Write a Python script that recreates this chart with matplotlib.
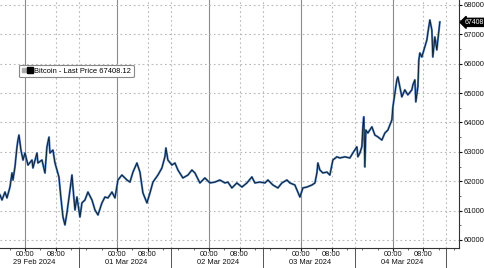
import matplotlib
matplotlib.use("Agg")
import matplotlib.pyplot as plt
import matplotlib.dates as mdates
import pandas as pd
from matplotlib.lines import Line2D
from matplotlib.legend_handler import HandlerTuple
from matplotlib.ticker import MultipleLocator

plt.rcParams["font.family"] = ["Liberation Sans", "DejaVu Sans"]

# Bitcoin last price
times = [
    "2024-02-28 17:30", "2024-02-28 18:00", "2024-02-28 18:47", "2024-02-28 19:18",
    "2024-02-28 20:05", "2024-02-28 20:37", "2024-02-28 20:52", "2024-02-28 21:23",
    "2024-02-28 21:55", "2024-02-28 22:10", "2024-02-28 22:26", "2024-02-28 22:57",
    "2024-02-28 23:29", "2024-02-29 00:00", "2024-02-29 00:47", "2024-02-29 01:50",
    "2024-02-29 02:05", "2024-02-29 03:08", "2024-02-29 03:23", "2024-02-29 04:26",
    "2024-02-29 05:13", "2024-02-29 05:44", "2024-02-29 06:16", "2024-02-29 06:31",
    "2024-02-29 07:18", "2024-02-29 07:50", "2024-02-29 08:21", "2024-02-29 08:52",
    "2024-02-29 09:23", "2024-02-29 09:55", "2024-02-29 10:26", "2024-02-29 10:57",
    "2024-02-29 11:44", "2024-02-29 12:16", "2024-02-29 12:31", "2024-02-29 13:03",
    "2024-02-29 13:34", "2024-02-29 14:21", "2024-02-29 14:52", "2024-02-29 15:39",
    "2024-02-29 16:26", "2024-02-29 17:29", "2024-02-29 18:16", "2024-02-29 19:03",
    "2024-02-29 20:05", "2024-02-29 20:52", "2024-02-29 21:39", "2024-02-29 22:42",
    "2024-02-29 23:29", "2024-03-01 00:16", "2024-03-01 01:18", "2024-03-01 02:37",
    "2024-03-01 03:24", "2024-03-01 04:11", "2024-03-01 05:13", "2024-03-01 06:00",
    "2024-03-01 06:47", "2024-03-01 07:50", "2024-03-01 08:37", "2024-03-01 09:24",
    "2024-03-01 10:42", "2024-03-01 11:44", "2024-03-01 12:31", "2024-03-01 12:47",
    "2024-03-01 13:18", "2024-03-01 14:21", "2024-03-01 15:08", "2024-03-01 15:55",
    "2024-03-01 17:13", "2024-03-01 18:32", "2024-03-01 19:34", "2024-03-01 20:21",
    "2024-03-01 21:39", "2024-03-01 22:57", "2024-03-02 00:16", "2024-03-02 01:34",
    "2024-03-02 02:52", "2024-03-02 04:11", "2024-03-02 04:57", "2024-03-02 06:00",
    "2024-03-02 07:18", "2024-03-02 08:37", "2024-03-02 09:55", "2024-03-02 11:13",
    "2024-03-02 12:00", "2024-03-02 13:18", "2024-03-02 14:37", "2024-03-02 15:24",
    "2024-03-02 16:42", "2024-03-02 18:00", "2024-03-02 19:03", "2024-03-02 20:21",
    "2024-03-02 21:08", "2024-03-02 22:26", "2024-03-02 23:13", "2024-03-02 23:45",
    "2024-03-03 00:32", "2024-03-03 01:34", "2024-03-03 02:53", "2024-03-03 03:40",
    "2024-03-03 04:11", "2024-03-03 04:26", "2024-03-03 04:58", "2024-03-03 05:45",
    "2024-03-03 06:47", "2024-03-03 07:34", "2024-03-03 08:21", "2024-03-03 09:24",
    "2024-03-03 10:11", "2024-03-03 11:29", "2024-03-03 12:47", "2024-03-03 13:34",
    "2024-03-03 14:37", "2024-03-03 14:53", "2024-03-03 15:24", "2024-03-03 15:55",
    "2024-03-03 16:11", "2024-03-03 16:26", "2024-03-03 16:42", "2024-03-03 16:58",
    "2024-03-03 17:29", "2024-03-03 18:32", "2024-03-03 19:19", "2024-03-03 20:05",
    "2024-03-03 21:08", "2024-03-03 21:55", "2024-03-03 22:42", "2024-03-03 23:45",
    "2024-03-04 00:01", "2024-03-04 00:32", "2024-03-04 01:03", "2024-03-04 01:19",
    "2024-03-04 01:50", "2024-03-04 02:21", "2024-03-04 03:08", "2024-03-04 03:55",
    "2024-03-04 04:58", "2024-03-04 05:14", "2024-03-04 05:45", "2024-03-04 06:00",
    "2024-03-04 06:32", "2024-03-04 06:47", "2024-03-04 07:03", "2024-03-04 07:34",
    "2024-03-04 08:21", "2024-03-04 08:53", "2024-03-04 09:08", "2024-03-04 09:40",
    "2024-03-04 10:11", "2024-03-04 10:26", "2024-03-04 10:58", "2024-03-04 11:29",
    "2024-03-04 11:45", "2024-03-04 12:16",
]
prices = [
    61530, 61360, 61630, 61430, 61800, 62280, 62040, 62485,
    63170, 63400, 63570, 63060, 62720, 62960, 62550, 62720,
    62450, 62960, 62620, 62720, 62280, 63170, 63500, 62960,
    63060, 62620, 62380, 62140, 61430, 60780, 60510, 60920,
    61700, 62210, 61800, 61020, 61460, 60780, 61260, 61360,
    61630, 61360, 61020, 60850, 61260, 61460, 61430, 61630,
    61430, 62040, 62210, 62040, 61970, 62310, 62620, 62310,
    61600, 61260, 61600, 61970, 62210, 62450, 62830, 63130,
    62720, 62550, 62620, 62380, 62110, 62210, 62380, 62280,
    61940, 62110, 61940, 61970, 62040, 61940, 61970, 61770,
    61940, 61800, 61940, 62145, 61940, 61970, 61940, 62040,
    61870, 61770, 61940, 62040, 61940, 61870, 61630, 61460,
    61770, 61800, 61870, 61940, 62280, 62620, 62380, 62280,
    62310, 62210, 62720, 62830, 62790, 62830, 62790, 62960,
    63170, 62830, 62960, 63170, 63850, 64190, 62485, 63740,
    63640, 63850, 63570, 63510, 63400, 63640, 63740, 64085,
    64530, 65000, 65450, 65550, 65210, 64870, 65110, 64940,
    65110, 65280, 65450, 64700, 65210, 66130, 66365, 66230,
    66570, 66810, 67050, 67490, 67150, 66230, 66910, 66470,
    66810, 67420,
]
last_price = 67408.12
days = ["2024-02-29", "2024-03-01", "2024-03-02", "2024-03-03", "2024-03-04"]

t = pd.to_datetime(times)
day_ts = pd.to_datetime(days)

fig = plt.figure(figsize=(4.85, 2.68), dpi=100)
ax = fig.add_axes([0.0, 0.075, 0.946, 0.925])

ax.plot(t, prices, color="#4a7fc1", lw=1.5, solid_joinstyle="round")
ax.plot(t, prices, color="#0d1620", lw=0.6, label="Bitcoin - Last Price 67408.12")

ax.set_xlim(pd.Timestamp("2024-02-28 17:29"), pd.Timestamp("2024-03-04 17:13"))
ax.set_ylim(59728, 68170)

fs = 5.4
dotted = (0, (1.5, 2.5))

# grid
ax.yaxis.set_major_locator(MultipleLocator(1000))
ax.yaxis.set_minor_locator(MultipleLocator(500))
ax.grid(axis="y", color="#b8b8b8", linestyle=dotted, lw=0.8)
for d in day_ts:
    ax.axvline(d, color="#8c8c8c", lw=0.8, zorder=0)
    ax.axvline(d + pd.Timedelta(hours=8), color="#b8b8b8", lw=0.8,
               linestyle=dotted, zorder=0)
    ax.axvline(d + pd.Timedelta(hours=14), color="#b8b8b8", lw=0.8,
               linestyle=dotted, zorder=0)
    ax.plot([d + pd.Timedelta(hours=14)] * 2, [0, -0.085], color="#555555", lw=0.7,
            transform=ax.get_xaxis_transform(), clip_on=False)
    ax.text(d + pd.Timedelta(hours=2.5), -0.044, d.strftime("%d %b %Y"),
            transform=ax.get_xaxis_transform(), ha="center", va="top",
            fontsize=fs, color="#111111")

ticks = [d + pd.Timedelta(hours=h) for d in day_ts for h in (0, 8)]
ax.set_xticks(ticks)
ax.set_xticklabels([x.strftime("%H:%M") for x in ticks])
ax.xaxis.set_minor_locator(mdates.HourLocator(byhour=[4, 12, 16, 20]))
ax.tick_params(axis="x", which="major", length=2, pad=0.5, labelsize=fs,
               colors="#111111")
ax.tick_params(axis="x", which="minor", length=1.5, color="#555555")

ax.yaxis.tick_right()
ax.tick_params(axis="y", which="major", length=2.5, pad=1.2, labelsize=fs,
               colors="#111111")
ax.tick_params(axis="y", which="minor", length=1.5, color="#555555")

for s in ("left", "top"):
    ax.spines[s].set_visible(False)
ax.spines["right"].set_color("#333333")
ax.spines["bottom"].set_color("#333333")
ax.spines["right"].set_linewidth(0.8)
ax.spines["bottom"].set_linewidth(0.8)

# last price tag
ax.text(1.012, last_price, "67408.", transform=ax.get_yaxis_transform(),
        ha="left", va="center", fontsize=5.0, color="white",
        bbox=dict(boxstyle="larrow,pad=0.08", fc="black", ec="black"), clip_on=False)

# legend
h1 = Line2D([], [], marker="s", color="#aaaaaa", linestyle="none", markersize=3)
h2 = Line2D([], [], marker="s", color="black", linestyle="none", markersize=4.5)
leg = ax.legend([(h1, h2)], ["Bitcoin - Last Price 67408.12"],
                handler_map={tuple: HandlerTuple(ndivide=None, pad=0.2)},
                loc="center left", bbox_to_anchor=(0.033, 0.714),
                fontsize=fs, handlelength=1.4, handletextpad=0.3,
                borderpad=0.35, fancybox=True, framealpha=1,
                edgecolor="#888888")
leg.get_frame().set_linewidth(0.8)

fig.savefig("out.png", dpi=100)
